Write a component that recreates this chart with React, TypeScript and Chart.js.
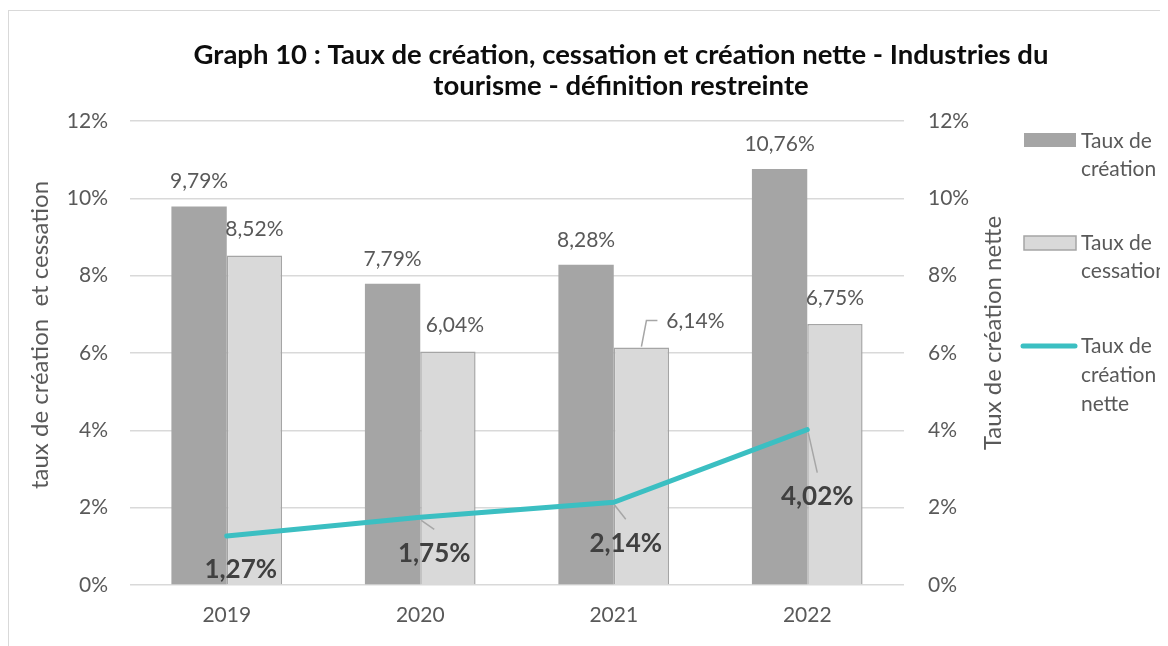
import React, { useEffect, useRef } from "react";
import { Chart, registerables } from "chart.js";

Chart.register(...registerables);

const years = ["2019", "2020", "2021", "2022"];
const creationRate = [9.79, 7.79, 8.28, 10.76];
const cessationRate = [8.52, 6.04, 6.14, 6.75];
const netCreationRate = [1.27, 1.75, 2.14, 4.02];
const axisMin = 0;
const axisMax = 12;
const axisStep = 2;

const titleLines = [
  "Graph 10 : Taux de création, cessation et création nette - Industries du",
  "tourisme - définition restreinte",
];
const leftAxisTitle = "taux de création  et cessation";
const rightAxisTitle = "Taux de création nette";
const legendCreation = ["Taux de", "création"];
const legendCessation = ["Taux de", "cessation"];
const legendNet = ["Taux de", "création", "nette"];

// label styling (manual placements like in the original)
const cessationLabelDx = [0, 7, 54, 0];
const cessationLeader = [false, false, true, false];
const netLabelDx = [14, 14, 12, 10];
const netLabelDy = [34, 36, 41, 67];
const netLeader = [false, true, true, true];

const FONT = "Lato, 'Open Sans', sans-serif";
const TXT = "#595959";
const GRID = "#d9d9d9";
const DARK = "#a5a5a5";
const LIGHT = "#d9d9d9";
const TEAL = "#3bbfc2";
const LEADER = "#a6a6a6";

const fmt = (v: number) => v.toFixed(2).replace(".", ",") + "%";

const labelsPlugin = {
  id: "customLabels",
  afterDatasetsDraw(chart: any) {
    const ctx = chart.ctx;
    ctx.save();
    const creMeta = chart.getDatasetMeta(1);
    const cesMeta = chart.getDatasetMeta(2);
    const lineMeta = chart.getDatasetMeta(0);
    ctx.font = `21px ${FONT}`;
    ctx.fillStyle = TXT;
    ctx.textAlign = "center";
    ctx.textBaseline = "middle";
    creMeta.data.forEach((bar: any, i: number) => {
      ctx.fillText(fmt(creationRate[i]), bar.x, bar.y - 25);
    });
    cesMeta.data.forEach((bar: any, i: number) => {
      const lx = bar.x + cessationLabelDx[i];
      const ly = bar.y - 26;
      ctx.fillStyle = TXT;
      ctx.fillText(fmt(cessationRate[i]), lx, ly);
      if (cessationLeader[i]) {
        ctx.strokeStyle = LEADER;
        ctx.lineWidth = 1.5;
        ctx.beginPath();
        ctx.moveTo(bar.x, bar.y - 1);
        ctx.lineTo(bar.x + 5, ly - 1);
        ctx.lineTo(bar.x + 16, ly - 1);
        ctx.stroke();
      }
    });
    ctx.font = `bold 26px ${FONT}`;
    lineMeta.data.forEach((pt: any, i: number) => {
      const lx = pt.x + netLabelDx[i];
      const ly = pt.y + netLabelDy[i];
      if (netLeader[i]) {
        ctx.strokeStyle = LEADER;
        ctx.lineWidth = 1.5;
        ctx.beginPath();
        ctx.moveTo(pt.x + 1, pt.y + 3);
        ctx.lineTo(lx, ly - 24);
        ctx.stroke();
      }
      ctx.fillStyle = "#404040";
      ctx.fillText(fmt(netCreationRate[i]), lx, ly);
    });
    ctx.restore();
  },
  afterDraw(chart: any) {
    const ctx = chart.ctx;
    const area = chart.chartArea;
    ctx.save();
    // title
    ctx.fillStyle = "#0d0d0d";
    ctx.font = `bold 27.5px ${FONT}`;
    ctx.textAlign = "center";
    ctx.textBaseline = "middle";
    titleLines.forEach((t, i) => ctx.fillText(t, 612, 44 + i * 31));
    // axis titles
    ctx.fillStyle = TXT;
    ctx.font = `24px ${FONT}`;
    ctx.save();
    ctx.translate(31, (area.top + area.bottom) / 2 - 18);
    ctx.rotate(-Math.PI / 2);
    ctx.fillText(leftAxisTitle, 0, 0);
    ctx.restore();
    ctx.save();
    ctx.translate(984, (area.top + area.bottom) / 2 - 20);
    ctx.rotate(-Math.PI / 2);
    ctx.fillText(rightAxisTitle, 0, 0);
    ctx.restore();
    // legend
    ctx.font = `21px ${FONT}`;
    ctx.textAlign = "left";
    const sx = 1015;
    const tx = 1072;
    ctx.fillStyle = DARK;
    ctx.fillRect(sx, 122, 52, 14);
    ctx.fillStyle = TXT;
    legendCreation.forEach((t, i) => ctx.fillText(t, tx, 130 + i * 28));
    ctx.fillStyle = LIGHT;
    ctx.fillRect(sx, 225, 52, 14);
    ctx.strokeStyle = DARK;
    ctx.lineWidth = 1.5;
    ctx.strokeRect(sx, 225, 52, 14);
    ctx.fillStyle = TXT;
    legendCessation.forEach((t, i) => ctx.fillText(t, tx, 232 + i * 28));
    ctx.strokeStyle = TEAL;
    ctx.lineWidth = 5;
    ctx.lineCap = "round";
    ctx.beginPath();
    ctx.moveTo(sx - 1, 335);
    ctx.lineTo(sx + 51, 335);
    ctx.stroke();
    ctx.fillStyle = TXT;
    legendNet.forEach((t, i) => ctx.fillText(t, tx, 335 + i * 29));
    ctx.restore();
  },
};

export default function App() {
  const ref = useRef<HTMLCanvasElement | null>(null);
  useEffect(() => {
    if (!ref.current) return;
    const tickFont = { family: FONT, size: 21 };
    const chart = new Chart(ref.current, {
      type: "bar",
      data: {
        labels: years,
        datasets: [
          {
            type: "line",
            label: "Taux de création nette",
            data: netCreationRate,
            yAxisID: "y1",
            borderColor: TEAL,
            borderWidth: 5,
            pointRadius: 0,
            tension: 0,
            borderCapStyle: "round",
            order: 0,
          } as any,
          {
            label: "Taux de création",
            data: creationRate,
            backgroundColor: DARK,
            borderWidth: 0,
            yAxisID: "y",
            order: 1,
          },
          {
            label: "Taux de cessation",
            data: cessationRate,
            backgroundColor: LIGHT,
            borderColor: DARK,
            borderWidth: 1.5,
            borderSkipped: "bottom",
            yAxisID: "y",
            order: 1,
          },
        ],
      },
      options: {
        responsive: false,
        animation: false,
        maintainAspectRatio: false,
        layout: { padding: { top: 110, left: 0, right: 0, bottom: 0 } },
        datasets: { bar: { categoryPercentage: 0.572, barPercentage: 1 } },
        plugins: { legend: { display: false }, tooltip: { enabled: false }, title: { display: false } },
        scales: {
          x: {
            offset: true,
            grid: { display: false, drawTicks: false },
            border: { display: false },
            ticks: { color: TXT, font: tickFont, padding: 18 },
            afterFit: (s: any) => { s.height = 61; },
          },
          y: {
            position: "left",
            min: axisMin,
            max: axisMax,
            ticks: { stepSize: axisStep, color: TXT, font: tickFont, padding: 22, callback: (v: any) => v + "%" },
            grid: { color: GRID, lineWidth: 1.5, drawTicks: false },
            border: { display: false },
            afterFit: (s: any) => { s.width = 121; },
          },
          y1: {
            position: "right",
            min: axisMin,
            max: axisMax,
            ticks: { stepSize: axisStep, color: TXT, font: tickFont, padding: 24, callback: (v: any) => v + "%" },
            grid: { display: false, drawTicks: false },
            border: { display: false },
            afterFit: (s: any) => { s.width = 264; },
          },
        },
      } as any,
      plugins: [labelsPlugin],
    });
    return () => chart.destroy();
  }, []);
  return (
    <div
      style={{
        marginTop: 2,
        width: 1160,
        height: 636,
        boxSizing: "border-box",
        borderLeft: "1.5px solid #d9d9d9",
        borderTop: "1.5px solid #d9d9d9",
        overflow: "hidden",
        background: "#fff",
      }}
    >
      <canvas ref={ref} width={1159} height={635} style={{ display: "block" }} />
    </div>
  );
}
